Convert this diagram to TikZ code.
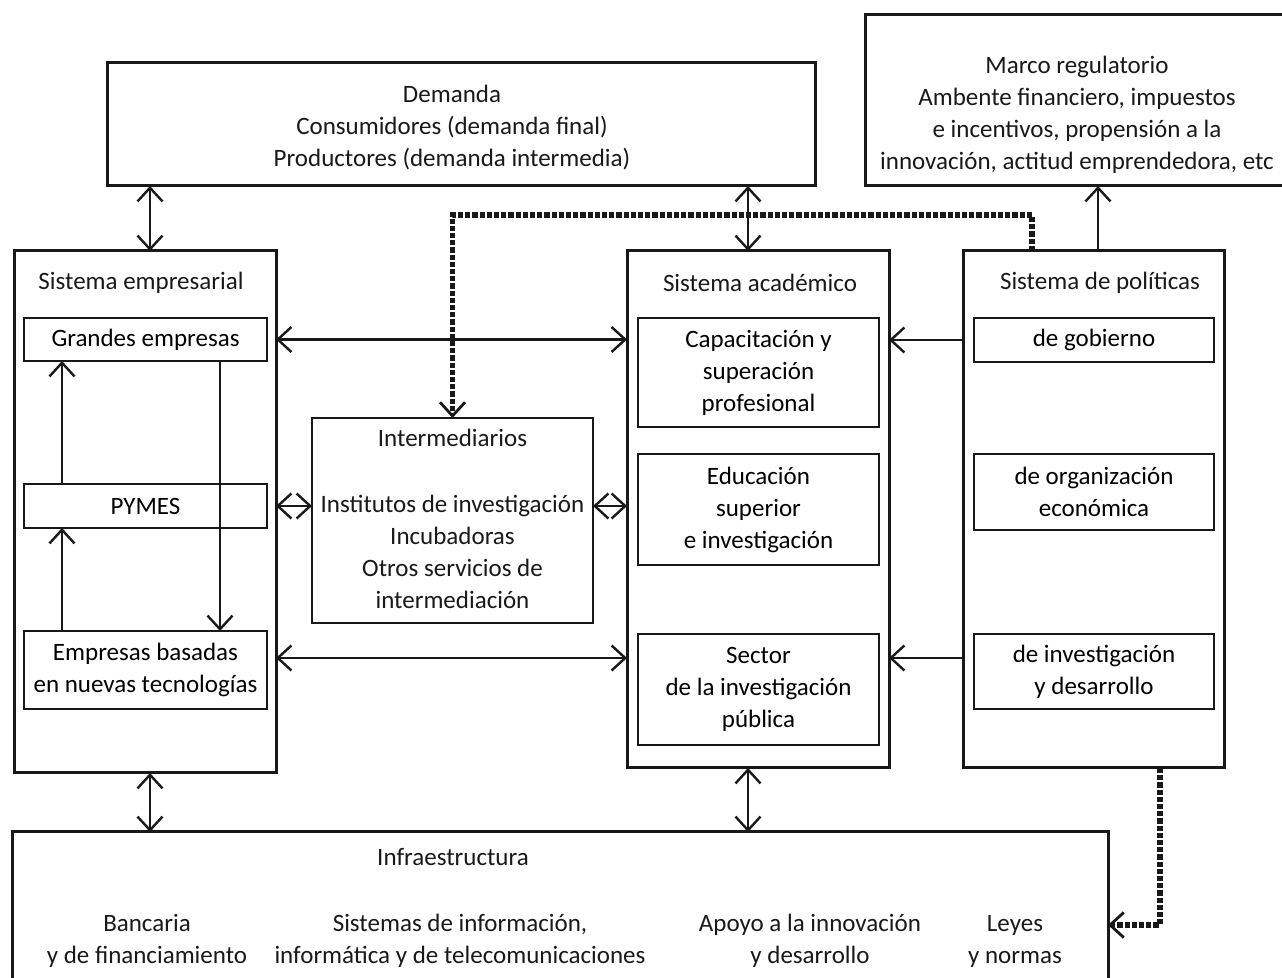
\documentclass[tikz,border=0pt]{standalone}
\usepackage{fontspec}
\setmainfont{Carlito}
\usepackage{tikz}
\usetikzlibrary{arrows.meta,positioning,calc}
\definecolor{inkblack}{RGB}{25,25,25}
\tikzset{
  bigbox/.style={draw=inkblack, line width=1.5pt, inner sep=0pt, outer sep=0pt},
  subbox/.style={draw=inkblack, line width=1.4pt, inner sep=0pt, outer sep=0pt,
    align=center, font=\fontsize{12.5}{16}\selectfont},
  lbl/.style={align=center, inner sep=0pt, font=\fontsize{12.5}{16}\selectfont, text=inkblack},
  arr/.style={-{Straight Barb[length=2.4mm,width=4.4mm]}, line width=1.2pt, inkblack},
  dbl/.style={{Straight Barb[length=2.4mm,width=4.4mm]}-{Straight Barb[length=2.4mm,width=4.4mm]},
    line width=1.2pt, inkblack},
  dotarr/.style={-{Straight Barb[length=2.4mm,width=4.4mm,line width=1.4pt]}, line width=2.7pt,
    dash pattern=on 2.6pt off 1pt, inkblack}
}
\begin{document}
\begin{tikzpicture}[x=0.5pt,y=-0.5pt]
  \clip (0,0) rectangle (1282,978);
  \fill[white] (0,0) rectangle (1282,978);

  % top row
  \node[bigbox,minimum width=354pt,minimum height=61.5pt] (demanda) at (461,124.5) {};
  \node[lbl] (demandaT) at (452,128) {Demanda\\Consumidores (demanda final)\\Productores (demanda intermedia)};
  \node[bigbox,minimum width=217.5pt,minimum height=85.5pt] (marco) at (1082.5,100.5) {};
  \node[lbl] (marcoT) at (1077,114.5) {Marco regulatorio\\Ambente financiero, impuestos\\e incentivos, propensión a la\\innovación, actitud emprendedora, etc};

  % sistema empresarial
  \node[bigbox,minimum width=131pt,minimum height=261pt] (emp) at (145,512) {};
  \node[lbl] (empT) at (141,283) {Sistema empresarial};
  \node[subbox,minimum width=121.5pt,minimum height=21.5pt] (grandes) at (145.5,339.5) {Grandes empresas};
  \node[subbox,minimum width=121.5pt,minimum height=22pt] (pymes) at (145.5,506) {PYMES};
  \node[subbox,minimum width=121.5pt,minimum height=39pt] (nuevas) at (145.5,670) {Empresas basadas\\en nuevas tecnologías};

  % intermediarios
  \node[subbox,minimum width=140.5pt,minimum height=102.5pt] (inter) at (452.5,520.5) {};
  \node[lbl] (interT) at (452.5,519) {Intermediarios\\[17pt]Institutos de investigación\\Incubadoras\\Otros servicios de\\intermediación};

  % sistema academico
  \node[bigbox,minimum width=131pt,minimum height=258.5pt] (acad) at (758,509.5) {};
  \node[lbl] (acadT) at (760,283) {Sistema académico};
  \node[subbox,minimum width=120.5pt,minimum height=54.5pt] (capac) at (758.5,372.5) {Capacitación y\\superación\\profesional};
  \node[subbox,minimum width=120.5pt,minimum height=55.5pt] (educ) at (758.5,509.5) {Educación\\superior\\e investigación};
  \node[subbox,minimum width=120.5pt,minimum height=55.5pt] (sector) at (758.5,689.5) {Sector\\de la investigación\\pública};

  % sistema de politicas
  \node[bigbox,minimum width=130.5pt,minimum height=258.5pt] (pol) at (1093.5,509.5) {};
  \node[lbl] (polT) at (1100,283) {Sistema de políticas};
  \node[subbox,minimum width=120pt,minimum height=22pt] (gob) at (1094,340) {de gobierno};
  \node[subbox,minimum width=120pt,minimum height=38pt] (org) at (1094,492) {de organización\\económica};
  \node[subbox,minimum width=120pt,minimum height=37.5pt] (invdes) at (1094,671.5) {de investigación\\y desarrollo};

  % infraestructura
  \node[bigbox,minimum width=548pt,minimum height=85pt] (infra) at (560,917) {};
  \node[lbl] (infraT) at (453,857) {Infraestructura};
  \node[lbl] (banca) at (147,941) {Bancaria\\y de financiamiento};
  \node[lbl] (sisinf) at (460,941) {Sistemas de información,\\informática y de telecomunicaciones};
  \node[lbl] (apoyo) at (810,941) {Apoyo a la innovación\\y desarrollo};
  \node[lbl] (leyes) at (1015,941) {Leyes\\y normas};

  % helper coordinates
  \coordinate (colL) at (150,0);
  \coordinate (colM) at (748,0);
  \coordinate (colR) at (1098,0);
  \coordinate (inA) at (62,0);
  \coordinate (inB) at (220,0);
  \coordinate (rowC) at (0,658);
  \coordinate (dotA) at (1032,0);
  \coordinate (dotY) at (0,215);
  \coordinate (dotB) at (1160,0);
  \coordinate (dotZ) at (0,925);

  % vertical links
  \draw[dbl] (colL |- demanda.south) -- (colL |- emp.north);
  \draw[dbl] (colM |- demanda.south) -- (colM |- acad.north);
  \draw[arr] (colR |- pol.north) -- (colR |- marco.south);
  \draw[dbl] (colL |- emp.south) -- (colL |- infra.north);
  \draw[dbl] (colM |- acad.south) -- (colM |- infra.north);

  % horizontal links
  \draw[dbl] (grandes -| emp.east) -- (grandes -| acad.west);
  \draw[dbl] (pymes -| emp.east) -- (pymes -| inter.west);
  \draw[dbl] (pymes -| inter.east) -- (pymes -| acad.west);
  \draw[dbl] (rowC -| emp.east) -- (rowC -| acad.west);
  \draw[arr] (gob -| pol.west) -- (gob -| acad.east);
  \draw[arr] (rowC -| pol.west) -- (rowC -| acad.east);

  % inside sistema empresarial
  \draw[arr] (inA |- pymes.north) -- (inA |- grandes.south);
  \draw[arr] (inA |- nuevas.north) -- (inA |- pymes.south);
  \draw[arr] (inB |- grandes.south) -- (inB |- nuevas.north);

  % dotted links
  \draw[dotarr] (dotA |- pol.north) -- (dotA |- dotY) -| (inter.north);
  \draw[dotarr] (dotB |- pol.south) |- (infra.east |- dotZ);
\end{tikzpicture}
\end{document}
